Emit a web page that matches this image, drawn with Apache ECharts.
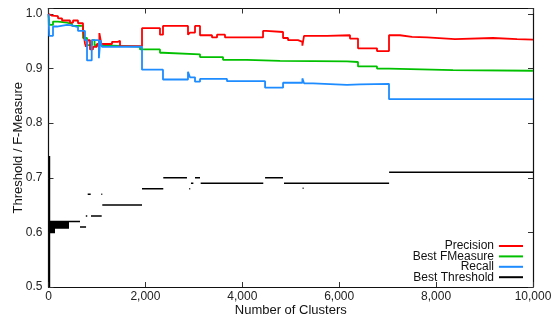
<!DOCTYPE html>
<html>
<head>
<meta charset="utf-8">
<script src="https://cdn.jsdelivr.net/npm/echarts@6/dist/echarts.min.js"></script>
<style>
html, body { margin: 0; padding: 0; background: #fff; }
#chart { width: 553px; height: 324px; }
</style>
</head>
<body>
<div id="chart"></div>
<script>
// Precision per number of clusters (each value holds until the next cluster count)
const precisionClusters = [0, 30, 72, 196, 279, 444, 506, 609, 712, 753, 774, 815, 857, 918, 1000, 1050, 1090, 1311, 1434, 1476, 1930, 2301, 2363, 2879, 2920, 3024, 3127, 3375, 3478, 3643, 4428, 4490, 4841, 4944, 5150, 5240, 5274, 5748, 6223, 6388, 6780, 7028, 7255, 7503, 7813, 8390, 9175, 9670, 10000];
const precision = [1.0, 0.997, 0.996, 0.992, 0.988, 0.984, 0.988, 0.983, 0.971, 0.946, 0.94, 0.952, 0.935, 0.94, 0.945, 0.965, 0.945, 0.949, 0.951, 0.941, 0.974, 0.962, 0.978, 0.962, 0.966, 0.978, 0.961, 0.957, 0.962, 0.957, 0.969, 0.967, 0.956, 0.952, 0.949, 0.942, 0.96, 0.961, 0.955, 0.937, 0.932, 0.961, 0.958, 0.957, 0.954, 0.956, 0.954, 0.953, 0.953];

// Best F-measure per number of clusters
const fmeasureClusters = [0, 20, 93, 196, 382, 485, 712, 795, 900, 950, 1063, 1889, 2301, 2363, 3127, 3602, 4097, 4779, 6161, 6388, 6780, 7028, 8349, 10000];
const fmeasure = [1.0, 0.98, 0.986, 0.984, 0.982, 0.978, 0.956, 0.943, 0.952, 0.943, 0.94, 0.935, 0.929, 0.926, 0.921, 0.916, 0.914, 0.913, 0.912, 0.904, 0.9, 0.897, 0.896, 0.896];

// Recall per number of clusters
const recallClusters = [0, 15, 93, 175, 382, 485, 609, 753, 795, 892, 1040, 1070, 1104, 1930, 2363, 2879, 2920, 3024, 3127, 3684, 4470, 4841, 5240, 5274, 5460, 6161, 6429, 7028, 10000];
const recall = [1.0, 0.96, 0.977, 0.98, 0.979, 0.976, 0.969, 0.952, 0.915, 0.952, 0.919, 0.952, 0.94, 0.898, 0.88, 0.894, 0.884, 0.876, 0.881, 0.877, 0.865, 0.874, 0.882, 0.873, 0.87, 0.871, 0.872, 0.844, 0.844];

// Best threshold: horizontal runs (from, to, level)
const thresholdFrom  = [0, 0, 0, 0, 0, 0, 0, 0, 0, 0, 0, 423, 650, 770, 809, 877, 1090, 1110, 1930, 2369, 2905, 2940, 3024, 3141, 4470, 4861, 5245, 7030];
const thresholdTo    = [423, 423, 423, 423, 423, 423, 423, 134, 134, 134, 134, 650, 775, 800, 871, 1098, 1110, 1930, 2369, 2858, 2925, 2990, 3127, 4433, 4840, 7030, 5265, 10000];
const thresholdLevel = [0.620, 0.618, 0.616, 0.614, 0.612, 0.610, 0.608, 0.606, 0.604, 0.602, 0.600, 0.620, 0.610, 0.630, 0.670, 0.630, 0.670, 0.650, 0.680, 0.700, 0.680, 0.690, 0.700, 0.690, 0.700, 0.690, 0.681, 0.710];
// Threshold spread at the smallest cluster counts
const spreadClusters = 20;
const spreadRange = [0.5, 0.74];

const xTicks = [0, 2000, 4000, 6000, 8000, 10000];
const yTicks = [0.5, 0.6, 0.7, 0.8, 0.9, 1.0];

function pairs(xs, ys) { return xs.map((x, i) => [x, ys[i]]); }

const thresholdData = [[spreadClusters, spreadRange[0]], [spreadClusters, spreadRange[1]], [spreadClusters, '-']];
thresholdFrom.forEach((x0, i) => {
  thresholdData.push([x0, thresholdLevel[i]], [thresholdTo[i], thresholdLevel[i]], [thresholdTo[i], '-']);
});

const FONT = '"Liberation Sans", Arial, sans-serif';
const frameColor = '#111';

const chart = echarts.init(document.getElementById('chart'), null, { renderer: 'canvas' });

const xBase = {
  type: 'value', min: xTicks[0], max: xTicks[xTicks.length - 1], interval: xTicks[1] - xTicks[0],
  splitLine: { show: false },
  axisLine: { show: true, onZero: false, lineStyle: { color: frameColor, width: 1.2 } },
  axisTick: { show: true, inside: true, length: 5, lineStyle: { color: '#333', width: 1 } }
};
const yBase = {
  type: 'value', min: yTicks[0], max: 1.01, interval: 0.1,
  splitLine: { show: false },
  axisLine: { show: true, onZero: false, lineStyle: { color: frameColor, width: 1.2 } },
  axisTick: { show: true, inside: true, length: 5, lineStyle: { color: '#333', width: 1 } }
};

chart.setOption({
  animation: false,
  backgroundColor: '#fff',
  textStyle: { fontFamily: FONT },
  grid: { left: 48.5, right: 20, top: 8.5, bottom: 37, containLabel: false, outerBoundsMode: 'none' },
  xAxis: [
    Object.assign({}, xBase, {
      position: 'bottom',
      name: 'Number of Clusters', nameLocation: 'middle', nameGap: 17, nameMoveOverlap: false,
      nameTextStyle: { fontSize: 13, color: '#111', fontFamily: FONT },
      axisLabel: {
        margin: 4, fontSize: 12, color: '#222', fontFamily: FONT, hideOverlap: false,
        formatter: v => v.toLocaleString('en-US')
      }
    }),
    Object.assign({}, xBase, { position: 'top', axisLabel: { show: false } })
  ],
  yAxis: [
    Object.assign({}, yBase, {
      position: 'left',
      name: 'Threshold / F-Measure', nameLocation: 'middle', nameGap: 24, nameMoveOverlap: false,
      nameTextStyle: { fontSize: 13, color: '#111', fontFamily: FONT },
      axisLabel: {
        margin: 6, fontSize: 12, color: '#222', fontFamily: FONT,
        formatter: v => yTicks.some(t => Math.abs(t - v) < 1e-6) ? v.toFixed(1) : ''
      }
    }),
    Object.assign({}, yBase, { position: 'right', axisLabel: { show: false } })
  ],
  legend: {
    orient: 'vertical', align: 'right', right: 30, top: 240, padding: 0,
    itemWidth: 24, itemHeight: 2, itemGap: -1.6, icon: 'rect',
    textStyle: { fontSize: 12, color: '#111', fontFamily: FONT },
    data: ['Precision', 'Best FMeasure', 'Recall', 'Best Threshold']
  },
  series: [
    {
      name: 'Best Threshold', type: 'line', data: thresholdData,
      showSymbol: false, symbol: 'none', connectNulls: false,
      lineStyle: { color: '#000', width: 1.5 }, itemStyle: { color: '#000' }
    },
    {
      name: 'Best FMeasure', type: 'line', step: 'end', data: pairs(fmeasureClusters, fmeasure),
      showSymbol: false, symbol: 'none',
      lineStyle: { color: '#00c000', width: 1.8 }, itemStyle: { color: '#00c000' }
    },
    {
      name: 'Precision', type: 'line', step: 'end', data: pairs(precisionClusters, precision),
      showSymbol: false, symbol: 'none',
      lineStyle: { color: '#ff0000', width: 1.8 }, itemStyle: { color: '#ff0000' }
    },
    {
      name: 'Recall', type: 'line', step: 'end', data: pairs(recallClusters, recall),
      showSymbol: false, symbol: 'none',
      lineStyle: { color: '#1e8cff', width: 1.8 }, itemStyle: { color: '#1e8cff' }
    }
  ]
});
</script>
</body>
</html>
